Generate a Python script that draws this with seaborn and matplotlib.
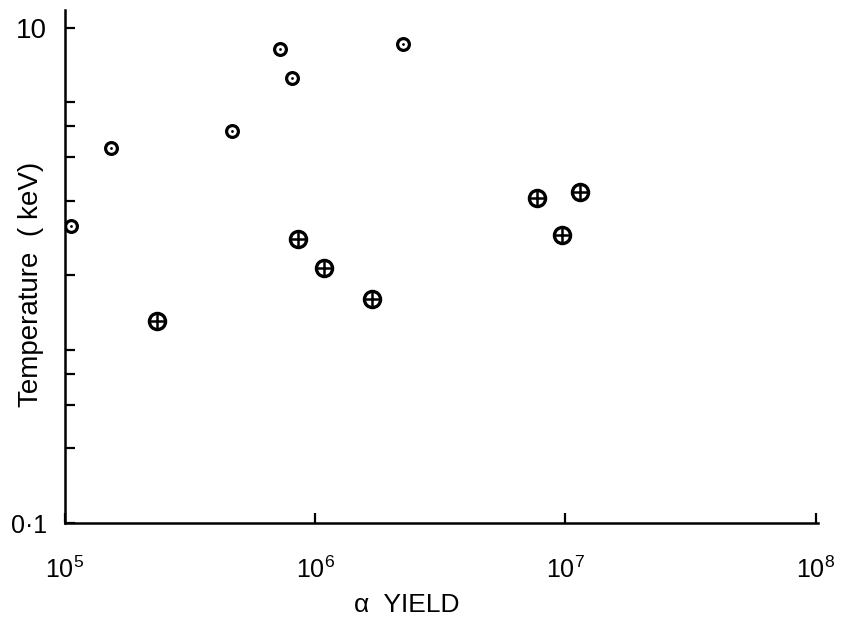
import matplotlib
matplotlib.use("Agg")
import matplotlib.pyplot as plt
import seaborn as sns
import pandas as pd
from matplotlib.ticker import FixedLocator, NullFormatter

# Alpha yield vs. temperature measurements
dot_yield = [1.06e5, 1.52e5, 4.65e5, 7.25e5, 8.1e5, 2.24e6]
dot_temp = [1.58, 3.26, 3.84, 8.2, 6.25, 8.6]

cross_yield = [2.33e5, 8.5e5, 1.08e6, 1.69e6, 7.7e6, 1.14e7, 9.7e6]
cross_temp = [0.655, 1.40, 1.07, 0.80, 2.05, 2.18, 1.45]

x_ticks = [1e5, 1e6, 1e7, 1e8]
x_labels = [r"$10^{5}$", r"$10^{6}$", r"$10^{7}$", r"$10^{8}$"]
y_ticks = [0.1, 10]
y_labels = ["0\u00b71", "10"]
y_minor = [0.2, 0.3, 0.4, 0.5, 1, 2, 3, 4, 5]

sns.set_theme(style="white")
plt.rcParams["font.family"] = ["Liberation Sans", "DejaVu Sans"]
plt.rcParams["mathtext.fontset"] = "custom"
plt.rcParams["mathtext.rm"] = "Liberation Sans"
plt.rcParams["mathtext.it"] = "Liberation Sans"

dots = pd.DataFrame({"yield": dot_yield, "temp": dot_temp})
crosses = pd.DataFrame({"yield": cross_yield, "temp": cross_temp})

fig = plt.figure(figsize=(8.41, 6.23), dpi=100)
ax = fig.add_axes([0.0773, 0.1605, 0.895, 0.8235])

# open circles with a centre dot
sns.scatterplot(data=dots, x="yield", y="temp", ax=ax, marker="o", s=72,
                facecolor="white", edgecolor="black", linewidth=2.3, zorder=3)
sns.scatterplot(data=dots, x="yield", y="temp", ax=ax, marker="o", s=4,
                color="black", edgecolor="black", linewidth=0, zorder=4)
# circles with a cross
sns.scatterplot(data=crosses, x="yield", y="temp", ax=ax, marker="o", s=135,
                facecolor="white", edgecolor="black", linewidth=2.4, zorder=3)
sns.scatterplot(data=crosses, x="yield", y="temp", ax=ax, marker="+", s=100,
                color="black", linewidth=1.8, zorder=4)

ax.set_xscale("log")
ax.set_yscale("log")
ax.set_xlim(1e5, 1.02e8)
ax.set_ylim(0.1, 11.8)

for side in ["top", "right"]:
    ax.spines[side].set_visible(False)
for side in ["left", "bottom"]:
    ax.spines[side].set_linewidth(1.8)
    ax.spines[side].set_color("black")

ax.xaxis.set_major_locator(FixedLocator(x_ticks))
ax.set_xticklabels(x_labels)
ax.xaxis.set_minor_locator(FixedLocator([]))
ax.yaxis.set_major_locator(FixedLocator(y_ticks))
ax.set_yticklabels(y_labels)
ax.yaxis.set_minor_locator(FixedLocator(y_minor))
ax.yaxis.set_minor_formatter(NullFormatter())

ax.tick_params(axis="both", which="both", direction="in", color="black",
               width=1.6, labelcolor="black", left=True, bottom=True)
ax.tick_params(axis="both", which="major", length=7)
ax.tick_params(axis="y", which="minor", length=7)
ax.tick_params(axis="x", which="major", pad=24, labelsize=18)
ax.tick_params(axis="y", which="major", pad=13, labelsize=20)
for lab in ax.get_yticklabels():
    if lab.get_text().startswith("0"):
        lab.set_fontsize(18)

ax.set_xlabel("\u03b1  YIELD", fontsize=19, color="black")
ax.xaxis.set_label_coords(0.454, -0.136, transform=ax.transAxes)
ax.xaxis.label.set_va("top")
ax.set_ylabel("Temperature  ( keV)", fontsize=20, color="black")
ax.yaxis.set_label_coords(-0.028, 0.466, transform=ax.transAxes)
ax.grid(False)

fig.savefig("out.png", dpi=100, facecolor="white")
